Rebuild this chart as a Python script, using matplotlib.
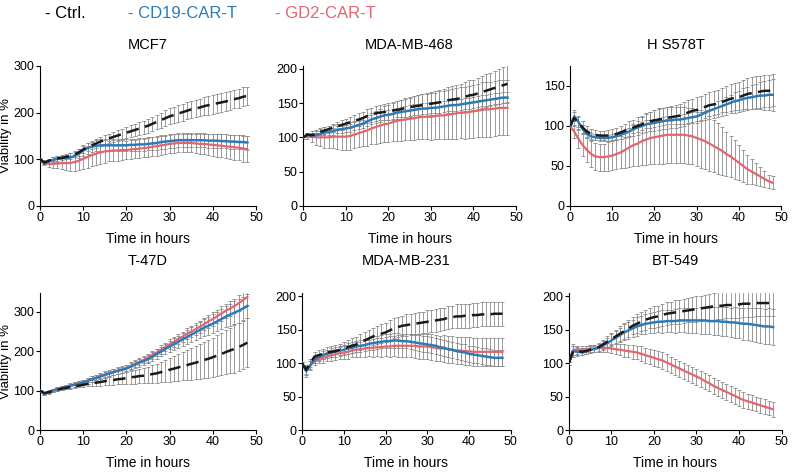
import numpy as np
import matplotlib
matplotlib.use("Agg")
import matplotlib.pyplot as plt

plt.rcParams['font.family'] = ['Liberation Sans', 'DejaVu Sans']

# time points in hours
hours = list(range(49))

titles = ["MCF7", "MDA-MB-468", "H S578T", "T-47D", "MDA-MB-231", "BT-549"]

# MCF7
mcf7_ctrl = [100, 93, 97, 100, 102, 103, 105, 107, 110, 115,
             121, 126, 130, 134, 138, 142, 145, 148, 151, 154,
             157, 160, 163, 166, 169, 172, 176, 180, 184, 188,
             192, 195, 198, 201, 204, 207, 209, 211, 214, 216,
             218, 220, 222, 224, 226, 229, 231, 234, 236]
mcf7_ctrl_err = [2, 3, 4, 4, 5, 5, 5, 6, 6, 7,
                 7, 8, 8, 9, 9, 10, 10, 11, 11, 12,
                 12, 13, 13, 14, 14, 15, 15, 16, 16, 17,
                 17, 17, 18, 18, 18, 19, 19, 19, 19, 20,
                 20, 20, 20, 20, 20, 20, 20, 20, 20]
mcf7_cd19 = [100, 91, 95, 99, 101, 102, 103, 104, 107, 112,
             119, 124, 127, 129, 130, 130, 130, 130, 130, 130,
             130, 131, 131, 132, 132, 133, 134, 135, 137, 138,
             139, 140, 141, 141, 141, 141, 141, 141, 141, 140,
             140, 140, 139, 139, 138, 138, 137, 137, 136]
mcf7_cd19_err = [2, 3, 4, 5, 6, 7, 8, 9, 10, 10,
                 11, 12, 12, 12, 13, 13, 13, 13, 13, 13,
                 13, 13, 13, 14, 14, 14, 14, 15, 15, 15,
                 15, 15, 15, 15, 15, 15, 15, 15, 15, 15,
                 15, 15, 15, 15, 15, 15, 15, 15, 15]
mcf7_gd2 = [100, 94, 90, 90, 91, 92, 92, 92, 94, 97,
            101, 105, 109, 112, 115, 117, 118, 119, 119, 120,
            120, 121, 122, 123, 124, 125, 127, 128, 130, 131,
            133, 134, 135, 135, 135, 135, 134, 133, 133, 132,
            131, 130, 129, 128, 127, 126, 125, 123, 122]
mcf7_gd2_err = [2, 4, 6, 8, 10, 12, 14, 16, 18, 20,
                22, 24, 24, 24, 24, 24, 22, 22, 22, 22,
                20, 20, 20, 20, 20, 20, 20, 20, 20, 20,
                20, 20, 20, 20, 20, 20, 21, 22, 22, 23,
                24, 24, 25, 26, 26, 27, 27, 28, 28]

# MDA-MB-468
mb468_ctrl = [100, 104, 103, 105, 108, 110, 112, 114, 116, 118,
              120, 122, 124, 126, 128, 131, 133, 135, 136, 137,
              138, 139, 140, 141, 143, 144, 145, 146, 147, 148,
              149, 150, 151, 152, 154, 155, 156, 157, 159, 161,
              162, 164, 166, 168, 170, 172, 174, 176, 178]
mb468_ctrl_err = [2, 3, 3, 4, 4, 5, 5, 6, 6, 7,
                  7, 8, 8, 9, 9, 10, 10, 11, 11, 12,
                  12, 13, 13, 14, 14, 15, 15, 16, 16, 17,
                  17, 18, 18, 19, 19, 20, 20, 21, 21, 22,
                  22, 23, 23, 24, 24, 25, 25, 26, 27]
mb468_cd19 = [100, 104, 103, 103, 105, 107, 108, 109, 111, 112,
              113, 114, 116, 118, 120, 123, 126, 128, 130, 132,
              133, 134, 136, 137, 138, 139, 140, 141, 142, 142,
              143, 143, 144, 145, 146, 147, 147, 148, 149, 150,
              151, 152, 153, 154, 155, 156, 157, 158, 158]
mb468_cd19_err = [2, 3, 3, 3, 4, 4, 4, 5, 5, 5,
                  5, 6, 6, 6, 6, 6, 7, 7, 7, 7,
                  7, 7, 7, 7, 8, 8, 8, 8, 8, 8,
                  8, 8, 8, 8, 8, 8, 8, 8, 8, 8,
                  8, 8, 8, 8, 8, 8, 8, 8, 8]
mb468_gd2 = [100, 102, 101, 100, 100, 100, 100, 101, 101, 101,
             101, 102, 104, 106, 108, 110, 113, 115, 117, 119,
             120, 122, 124, 125, 126, 127, 128, 129, 130, 130,
             130, 131, 132, 132, 133, 134, 135, 136, 136, 137,
             138, 139, 140, 141, 141, 142, 143, 143, 143]
mb468_gd2_err = [2, 5, 8, 11, 13, 15, 16, 17, 18, 19,
                 20, 20, 20, 20, 21, 22, 23, 24, 25, 26,
                 27, 28, 29, 30, 30, 31, 32, 32, 33, 33,
                 34, 34, 35, 35, 36, 36, 37, 37, 38, 38,
                 39, 39, 40, 40, 40, 40, 40, 40, 40]

# H S578T
hs578t_ctrl = [100, 110, 104, 98, 93, 90, 89, 88, 88, 88,
               89, 90, 92, 94, 96, 98, 100, 102, 104, 106,
               107, 108, 109, 110, 111, 112, 113, 115, 117, 119,
               120, 122, 124, 126, 127, 128, 130, 132, 134, 135,
               136, 138, 140, 141, 142, 143, 144, 144, 145]
hs578t_ctrl_err = [2, 10, 9, 8, 7, 6, 6, 6, 6, 7,
                   7, 8, 8, 9, 10, 10, 11, 11, 12, 12,
                   13, 13, 13, 14, 14, 14, 14, 15, 15, 15,
                   16, 16, 16, 17, 17, 17, 18, 18, 18, 19,
                   19, 19, 20, 20, 20, 20, 20, 20, 20]
hs578t_cd19 = [100, 112, 105, 96, 90, 87, 86, 85, 85, 85,
               86, 87, 89, 91, 93, 96, 98, 100, 102, 103,
               104, 105, 106, 107, 107, 108, 108, 109, 110, 111,
               112, 114, 117, 119, 121, 123, 125, 127, 129, 131,
               132, 134, 135, 136, 137, 138, 138, 139, 139]
hs578t_cd19_err = [2, 6, 6, 5, 5, 4, 4, 4, 4, 4,
                   4, 4, 5, 5, 5, 5, 5, 5, 5, 5,
                   5, 5, 5, 5, 5, 6, 6, 6, 6, 6,
                   6, 6, 7, 7, 7, 8, 8, 9, 10, 11,
                   12, 13, 14, 15, 16, 17, 18, 19, 20]
hs578t_gd2 = [100, 93, 84, 76, 70, 65, 62, 61, 61, 62,
              63, 65, 67, 70, 73, 76, 78, 81, 83, 85,
              86, 87, 88, 89, 89, 89, 89, 89, 88, 87,
              85, 83, 81, 78, 75, 72, 69, 65, 62, 58,
              54, 50, 46, 43, 40, 37, 34, 31, 29]
hs578t_gd2_err = [2, 8, 12, 14, 15, 16, 17, 17, 17, 18,
                  18, 19, 20, 22, 24, 26, 28, 30, 32, 33,
                  34, 35, 35, 35, 35, 35, 35, 35, 35, 35,
                  35, 35, 35, 34, 33, 32, 30, 28, 26, 24,
                  22, 20, 18, 16, 14, 12, 10, 8, 8]

# T-47D
t47d_ctrl = [100, 94, 96, 99, 102, 105, 107, 109, 111, 113,
             115, 117, 119, 120, 122, 124, 126, 127, 129, 130,
             132, 134, 135, 137, 138, 140, 142, 144, 147, 150,
             153, 156, 159, 162, 165, 168, 171, 174, 178, 181,
             185, 189, 193, 198, 202, 206, 211, 216, 222]
t47d_ctrl_err = [2, 3, 3, 3, 4, 4, 4, 5, 5, 5,
                 6, 6, 7, 8, 9, 10, 11, 12, 13, 14,
                 15, 16, 17, 18, 19, 20, 22, 24, 26, 28,
                 30, 32, 34, 36, 38, 40, 42, 44, 46, 48,
                 50, 52, 54, 56, 58, 60, 61, 62, 62]
t47d_cd19 = [100, 92, 96, 100, 103, 106, 109, 112, 115, 118,
             121, 125, 129, 132, 136, 140, 143, 147, 150, 153,
             156, 161, 166, 171, 175, 180, 186, 193, 199, 206,
             212, 218, 224, 230, 236, 242, 248, 254, 260, 265,
             270, 276, 282, 288, 293, 298, 303, 309, 315]
t47d_cd19_err = [2, 3, 4, 4, 5, 5, 5, 6, 6, 6,
                 6, 7, 7, 7, 7, 8, 8, 8, 8, 8,
                 9, 9, 9, 10, 10, 11, 11, 12, 12, 13,
                 14, 15, 16, 17, 18, 19, 20, 21, 22, 23,
                 24, 25, 26, 27, 28, 29, 30, 30, 30]
t47d_gd2 = [100, 93, 97, 101, 104, 107, 110, 113, 116, 118,
            121, 125, 129, 133, 137, 141, 144, 148, 151, 154,
            158, 163, 168, 173, 178, 184, 191, 197, 204, 211,
            218, 224, 231, 237, 244, 250, 256, 262, 269, 276,
            282, 289, 296, 303, 309, 315, 322, 330, 338]
t47d_gd2_err = [2, 3, 4, 4, 5, 5, 5, 6, 6, 6,
                6, 7, 7, 7, 7, 8, 8, 8, 8, 8,
                8, 9, 9, 9, 9, 10, 10, 10, 11, 11,
                12, 12, 13, 13, 14, 14, 15, 15, 16, 16,
                17, 17, 18, 18, 19, 19, 20, 20, 20]

# MDA-MB-231
mb231_ctrl = [100, 90, 100, 110, 112, 114, 116, 117, 118, 120,
              122, 124, 126, 128, 131, 134, 137, 140, 142, 144,
              146, 149, 152, 154, 156, 157, 158, 159, 160, 161,
              162, 163, 164, 165, 166, 168, 169, 170, 170, 171,
              171, 172, 172, 173, 173, 173, 174, 174, 174]
mb231_ctrl_err = [2, 6, 6, 6, 7, 7, 8, 8, 9, 9,
                  10, 10, 11, 11, 12, 12, 13, 13, 14, 14,
                  14, 15, 15, 15, 15, 16, 16, 16, 16, 16,
                  17, 17, 17, 17, 17, 17, 17, 18, 18, 18,
                  18, 18, 18, 18, 18, 18, 18, 18, 18]
mb231_cd19 = [100, 88, 97, 105, 109, 112, 114, 116, 117, 119,
              120, 122, 123, 125, 126, 127, 129, 130, 131, 132,
              133, 133, 134, 134, 133, 133, 132, 131, 130, 129,
              128, 127, 126, 124, 123, 121, 120, 118, 117, 116,
              114, 113, 112, 111, 110, 109, 108, 108, 108]
mb231_cd19_err = [2, 8, 6, 5, 5, 6, 6, 6, 7, 7,
                  7, 8, 8, 8, 9, 9, 9, 10, 10, 10,
                  10, 10, 11, 11, 11, 11, 11, 11, 12, 12,
                  12, 12, 12, 12, 12, 12, 12, 12, 12, 12,
                  12, 12, 12, 12, 12, 12, 12, 12, 12]
mb231_gd2 = [100, 90, 97, 103, 106, 108, 110, 112, 113, 115,
             116, 117, 119, 120, 121, 122, 123, 123, 124, 124,
             125, 125, 126, 126, 126, 126, 126, 126, 125, 125,
             125, 124, 123, 122, 122, 121, 120, 119, 119, 118,
             118, 117, 117, 117, 117, 117, 117, 117, 117]
mb231_gd2_err = [2, 8, 7, 6, 6, 7, 7, 8, 8, 9,
                 9, 10, 10, 11, 11, 12, 12, 13, 13, 14,
                 14, 15, 15, 16, 16, 17, 17, 18, 18, 18,
                 19, 19, 19, 19, 20, 20, 20, 20, 20, 21,
                 21, 21, 21, 21, 21, 21, 21, 21, 21]

# BT-549
bt549_ctrl = [100, 118, 118, 117, 118, 120, 122, 124, 128, 132,
              136, 140, 144, 148, 152, 156, 159, 162, 165, 167,
              169, 170, 172, 174, 175, 176, 177, 178, 179, 180,
              181, 182, 183, 184, 185, 186, 186, 187, 187, 188,
              188, 189, 189, 189, 190, 190, 190, 190, 190]
bt549_ctrl_err = [2, 8, 6, 5, 5, 5, 5, 6, 7, 8,
                  9, 10, 11, 12, 13, 13, 14, 14, 15, 15,
                  16, 16, 17, 17, 17, 18, 18, 18, 18, 19,
                  19, 19, 19, 19, 20, 20, 20, 20, 20, 20,
                  20, 20, 20, 20, 20, 20, 20, 20, 20]
bt549_cd19 = [100, 118, 117, 117, 118, 120, 121, 123, 126, 130,
              134, 138, 142, 146, 149, 152, 155, 157, 159, 160,
              161, 162, 162, 163, 163, 163, 164, 164, 164, 164,
              164, 164, 164, 163, 163, 163, 162, 162, 161, 161,
              160, 159, 159, 158, 157, 156, 155, 155, 154]
bt549_cd19_err = [2, 8, 6, 5, 5, 5, 5, 6, 7, 8,
                  9, 10, 11, 12, 13, 13, 14, 14, 15, 15,
                  16, 16, 17, 17, 17, 18, 18, 18, 19, 19,
                  19, 20, 20, 20, 21, 21, 22, 22, 22, 23,
                  23, 24, 24, 25, 25, 26, 26, 27, 27]
bt549_gd2 = [100, 120, 120, 120, 121, 122, 122, 123, 123, 123,
             122, 121, 120, 119, 118, 117, 116, 114, 112, 110,
             108, 106, 104, 101, 98, 95, 92, 89, 86, 83,
             80, 77, 73, 70, 66, 63, 60, 57, 54, 51,
             48, 45, 43, 41, 39, 37, 35, 33, 31]
bt549_gd2_err = [2, 8, 6, 5, 5, 5, 5, 6, 6, 7,
                 7, 8, 8, 9, 9, 10, 10, 11, 11, 11,
                 12, 12, 12, 12, 12, 12, 12, 12, 12, 12,
                 12, 12, 12, 12, 12, 12, 12, 12, 12, 12,
                 12, 12, 11, 11, 11, 11, 11, 11, 11]

panels = [
    (mcf7_ctrl, mcf7_ctrl_err, mcf7_cd19, mcf7_cd19_err, mcf7_gd2, mcf7_gd2_err),
    (mb468_ctrl, mb468_ctrl_err, mb468_cd19, mb468_cd19_err, mb468_gd2, mb468_gd2_err),
    (hs578t_ctrl, hs578t_ctrl_err, hs578t_cd19, hs578t_cd19_err, hs578t_gd2, hs578t_gd2_err),
    (t47d_ctrl, t47d_ctrl_err, t47d_cd19, t47d_cd19_err, t47d_gd2, t47d_gd2_err),
    (mb231_ctrl, mb231_ctrl_err, mb231_cd19, mb231_cd19_err, mb231_gd2, mb231_gd2_err),
    (bt549_ctrl, bt549_ctrl_err, bt549_cd19, bt549_cd19_err, bt549_gd2, bt549_gd2_err),
]

ylims = [300, 204, 175, 348, 205, 205]
yticks = [[0, 100, 200, 300], [0, 50, 100, 150, 200], [0, 50, 100, 150],
          [0, 100, 200, 300], [0, 50, 100, 150, 200], [0, 50, 100, 150, 200]]

c_ctrl = "#1a1a1a"
c_cd19 = "#2b7bba"
c_gd2 = "#e5646e"
c_err = "#8a8a8a"

# axes boxes in figure fraction
boxes = [
    (0.050, 0.5645, 0.270, 0.296),
    (0.379, 0.5645, 0.266, 0.296),
    (0.7125, 0.5645, 0.264, 0.296),
    (0.050, 0.0909, 0.270, 0.2896),
    (0.3775, 0.0909, 0.261, 0.2896),
    (0.711, 0.0909, 0.266, 0.2896),
]

fig = plt.figure(figsize=(8, 4.73), dpi=100)

for i, (box, data) in enumerate(zip(boxes, panels)):
    ax = fig.add_axes(box)
    ctrl, ctrl_e, cd19, cd19_e, gd2, gd2_e = data
    for y, e in [(gd2, gd2_e), (cd19, cd19_e), (ctrl, ctrl_e)]:
        ax.errorbar(hours, y, yerr=e, fmt='none', ecolor=c_err, elinewidth=0.6,
                    capsize=1.6, capthick=0.6, zorder=1)
    ax.plot(hours, gd2, color=c_gd2, lw=1.6, zorder=3)
    ax.plot(hours, cd19, color=c_cd19, lw=1.8, zorder=4)
    ax.plot(hours, ctrl, color=c_ctrl, lw=1.8, dashes=(5, 2.5), zorder=5)

    ax.set_xlim(0, 50)
    ax.set_ylim(0, ylims[i])
    ax.set_xticks([0, 10, 20, 30, 40, 50])
    ax.set_yticks(yticks[i])
    ax.spines['top'].set_visible(False)
    ax.spines['right'].set_visible(False)
    ax.tick_params(labelsize=9, length=3, width=0.8, pad=1)
    ax.set_xlabel("Time in hours", fontsize=10, labelpad=6)
    if i in (0, 3):
        ax.set_ylabel("Viability in %", fontsize=9.5, labelpad=1)
    ax.set_title(titles[i], fontsize=10.5, pad=12 if i < 3 else 20)

fig.text(0.056, 0.972, "- Ctrl.", color="black", fontsize=12, va='center')
fig.text(0.160, 0.972, "- CD19-CAR-T", color=c_cd19, fontsize=12, va='center')
fig.text(0.344, 0.972, "- GD2-CAR-T", color=c_gd2, fontsize=12, va='center')

fig.savefig("out.png", dpi=100)
